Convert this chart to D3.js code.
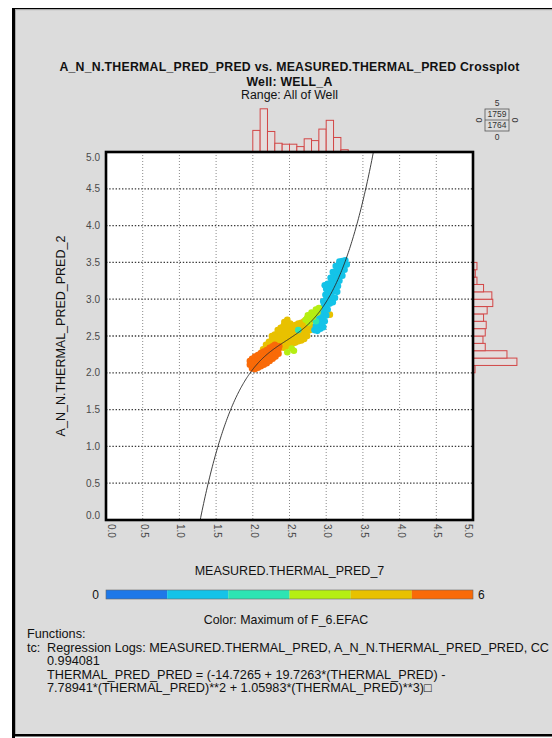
<!DOCTYPE html>
<html>
<head>
<meta charset="utf-8">
<script src="https://cdn.jsdelivr.net/npm/d3@7"></script>
<style>
  html, body { margin: 0; padding: 0; background: #ffffff; }
  svg { display: block; font-family: "Liberation Sans", Arial, sans-serif; }
</style>
</head>
<body>
<svg id="chart" width="552" height="738"></svg>
<script>
// ---------------- data ----------------
const titleLines = [
  "A_N_N.THERMAL_PRED_PRED vs. MEASURED.THERMAL_PRED Crossplot",
  "Well: WELL_A",
  "Range: All of Well"
];
const xAxisTitle = "MEASURED.THERMAL_PRED_7";
const yAxisTitle = "A_N_N.THERMAL_PRED_PRED_2";

const xTicks = [0, 0.5, 1, 1.5, 2, 2.5, 3, 3.5, 4, 4.5, 5];
const yTicks = [0, 0.5, 1, 1.5, 2, 2.5, 3, 3.5, 4, 4.5, 5];
const tickLabels = ["0.0", "0.5", "1.0", "1.5", "2.0", "2.5", "3.0", "3.5", "4.0", "4.5", "5.0"];

// x-histogram (MEASURED.THERMAL_PRED), bin edges and counts
const xHistEdges = [2.0, 2.1, 2.2, 2.3, 2.4, 2.5, 2.6, 2.7, 2.8, 2.9, 3.0, 3.1, 3.2, 3.3];
const xHistCounts = [180, 360, 171, 73, 65, 65, 45, 110, 95, 191, 264, 121, 19];

// y-histogram (A_N_N.THERMAL_PRED_PRED), bin edges and counts
const yHistEdges = [2.0, 2.1, 2.2, 2.3, 2.4, 2.5, 2.6, 2.7, 2.8, 2.9, 3.0, 3.1, 3.2, 3.3, 3.4, 3.5];
const yHistCounts = [17, 366, 283, 102, 83, 102, 110, 88, 118, 165, 157, 88, 33, 19, 33];

// point-count summary box
const summaryTop = "5";
const summaryBottom = "0";
const summaryLeft = "0";
const summaryRight = "0";
const summaryCounts = ["1759", "1764"];

// colour key: F_6.EFAC from 0 to 6
const efacDomain = [0, 6];
const efacColors = ["#1e78e8", "#14c3e8", "#2de5b3", "#b5ee12", "#e8c100", "#f96a08"];
const efacLabels = ["0", "6"];
const colorTitle = "Color: Maximum of F_6.EFAC";

// crossplot points [MEASURED, PRED], grouped by F_6.EFAC level
const efacGold = 4.5;
const pointsGold = [
  [2.14,2.32],[2.18,2.32],[2.18,2.38],[2.22,2.36],[2.22,2.42],
  [2.26,2.38],[2.26,2.44],[2.26,2.50],[2.30,2.40],[2.30,2.46],[2.30,2.52],
  [2.34,2.40],[2.34,2.46],[2.34,2.52],[2.34,2.58],
  [2.38,2.37],[2.38,2.43],[2.38,2.49],[2.38,2.55],[2.38,2.61],
  [2.42,2.34],[2.42,2.40],[2.42,2.46],[2.42,2.52],[2.42,2.58],[2.42,2.64],[2.43,2.69],
  [2.46,2.36],[2.46,2.42],[2.46,2.48],[2.46,2.54],[2.46,2.60],[2.46,2.66],[2.47,2.72],
  [2.50,2.38],[2.50,2.44],[2.50,2.50],[2.50,2.56],[2.50,2.62],[2.51,2.67],
  [2.54,2.40],[2.54,2.46],[2.54,2.52],[2.54,2.58],[2.54,2.64],
  [2.58,2.41],[2.58,2.47],[2.58,2.53],[2.58,2.59],[2.58,2.65],
  [2.62,2.43],[2.62,2.49],[2.62,2.55],[2.62,2.61],[2.62,2.67],
  [2.66,2.44],[2.66,2.50],[2.66,2.56],[2.66,2.62],[2.66,2.68],
  [2.70,2.46],[2.70,2.52],[2.70,2.58],[2.70,2.64],[2.70,2.70],
  [2.74,2.50],[2.74,2.56],[2.74,2.62],[2.74,2.68],[2.74,2.74],
  [2.78,2.58],[2.78,2.64],[2.78,2.70],[2.78,2.76],
  [2.82,2.72],[2.82,2.78],[2.88,2.64],[3.05,2.79]
];
const efacOrange = 5.5;
const pointsOrange = [
  [1.96,2.11],[1.96,2.16],
  [1.99,2.06],[1.99,2.12],[1.99,2.19],
  [2.03,2.05],[2.03,2.11],[2.03,2.17],[2.03,2.22],
  [2.07,2.07],[2.07,2.13],[2.07,2.19],[2.07,2.24],
  [2.11,2.09],[2.11,2.15],[2.11,2.21],[2.11,2.27],
  [2.15,2.11],[2.15,2.17],[2.15,2.23],[2.15,2.29],
  [2.19,2.13],[2.19,2.19],[2.19,2.25],[2.19,2.31],
  [2.23,2.16],[2.23,2.22],[2.23,2.28],[2.23,2.34],
  [2.27,2.19],[2.27,2.25],[2.27,2.31],[2.27,2.36],
  [2.31,2.22],[2.31,2.28],[2.31,2.34],[2.30,2.38],
  [2.35,2.26],[2.35,2.32],[2.36,2.36]
];
const efacCyan = 1.5;
const pointsCyan = [
  [2.84,2.58],[2.88,2.57],[2.92,2.60],[2.96,2.62],
  [2.86,2.64],[2.90,2.66],[2.94,2.68],[2.98,2.70],
  [2.88,2.72],[2.92,2.74],[2.96,2.76],[3.00,2.78],
  [2.90,2.80],[2.94,2.82],[2.98,2.84],[3.02,2.86],
  [2.93,2.88],[2.97,2.91],[3.01,2.93],[3.05,2.94],[3.09,2.96],
  [2.96,2.97],[3.00,3.00],[3.04,3.02],[3.08,3.03],[3.12,3.02],
  [2.99,3.06],[3.03,3.08],[3.07,3.10],[3.11,3.11],[3.15,3.10],
  [3.00,3.14],[3.04,3.16],[3.08,3.17],[3.12,3.18],[3.16,3.18],
  [2.98,3.19],[3.02,3.21],[3.06,3.22],[3.10,3.24],[3.14,3.25],[3.18,3.25],
  [3.06,3.29],[3.10,3.31],[3.14,3.32],[3.18,3.33],[3.22,3.32],
  [3.09,3.37],[3.13,3.38],[3.17,3.40],[3.21,3.40],[3.25,3.40],
  [3.13,3.45],[3.17,3.46],[3.21,3.47],[3.25,3.48],[3.28,3.47],
  [3.18,3.51],[3.22,3.52],[3.26,3.53]
];
const efacTeal = 2.5;
const pointsTeal = [[2.62,2.58],[2.86,2.70]];
const efacLime = 3.5;
const pointsLime = [
  [2.72,2.72],[2.75,2.78],[2.78,2.74],[2.80,2.82],[2.84,2.80],
  [2.86,2.86],[2.88,2.82],[2.76,2.68],[2.82,2.76],[2.90,2.88],
  [2.47,2.28],[2.53,2.33],[2.56,2.30]
];

// regression tc: PRED = c0 + c1*x + c2*x^2 + c3*x^3
const regCoef = [-14.7265, 19.7263, -7.78941, 1.05983];

const functionLines = [
  { text: "Functions:", indent: 0 },
  { text: "tc:", indent: 0 },
  { text: "0.994081", indent: 1 },
  { text: "THERMAL_PRED_PRED = (-14.7265 + 19.7263*(THERMAL_PRED) -", indent: 1 },
  { text: "7.78941*(THERMAL_PRED)**2 + 1.05983*(THERMAL_PRED)**3)\u25A1", indent: 1 }
];
const regressionHeader = "Regression Logs: MEASURED.THERMAL_PRED, A_N_N.THERMAL_PRED_PRED, CC";

// ---------------- drawing ----------------
const svg = d3.select("#chart");
const W = 552, H = 738;
const P = { left: 106, right: 473, top: 152, bottom: 520 };

const x = d3.scaleLinear().domain([0, 5]).range([P.left, P.right]);
const y = d3.scaleLinear().domain([0, 5]).range([P.bottom, P.top]);
const efacColor = d3.scaleQuantize().domain(efacDomain).range(efacColors);
const histLen = d3.scaleLinear().domain([0, 400]).range([0, 48]);

// window panel with its frame
svg.append("rect").attr("x", 12).attr("y", 8).attr("width", W - 12).attr("height", 727)
  .attr("fill", "#dcdcdc");
svg.append("rect").attr("x", 12).attr("y", 8).attr("width", W - 12).attr("height", 1.2).attr("fill", "#000");
svg.append("rect").attr("x", 15).attr("y", 9.2).attr("width", W - 15).attr("height", 1).attr("fill", "#a8a8a8");
svg.append("rect").attr("x", 15).attr("y", 9.2).attr("width", 1).attr("height", 725).attr("fill", "#a8a8a8");
svg.append("rect").attr("x", 12).attr("y", 8).attr("width", 3).attr("height", H - 8).attr("fill", "#000");
svg.append("rect").attr("x", 12).attr("y", 734).attr("width", W - 12).attr("height", 2.5).attr("fill", "#000");

// titles
const titleX = (P.left + P.right) / 2;
const titleY = [71, 85.5, 99];
svg.selectAll("text.title").data(titleLines).join("text")
  .attr("class", "title")
  .attr("x", titleX).attr("y", (d, i) => titleY[i])
  .attr("text-anchor", "middle")
  .attr("font-size", 12.3)
  .attr("letter-spacing", (d, i) => i < 2 ? 0.25 : 0)
  .attr("font-weight", (d, i) => i < 2 ? "bold" : "normal")
  .attr("fill", "#111")
  .text(d => d);

// marginal histograms
const histStroke = "#d24646";
const histFill = "#e4dcdc";
const xHistData = xHistCounts.map((c, i) => ({ c, a: xHistEdges[i], b: xHistEdges[i + 1] }));
svg.append("g").selectAll("rect").data(xHistData).join("rect")
  .attr("x", d => x(d.a)).attr("width", d => x(d.b) - x(d.a))
  .attr("y", d => P.top - histLen(d.c)).attr("height", d => histLen(d.c))
  .attr("fill", histFill).attr("stroke", histStroke).attr("stroke-width", 1);

const yHistData = yHistCounts.map((c, i) => ({ c, a: yHistEdges[i], b: yHistEdges[i + 1] }));
svg.append("g").selectAll("rect").data(yHistData).join("rect")
  .attr("x", P.right).attr("width", d => histLen(d.c))
  .attr("y", d => y(d.b)).attr("height", d => y(d.a) - y(d.b))
  .attr("fill", histFill).attr("stroke", histStroke).attr("stroke-width", 1);

// plot area
svg.append("rect").attr("x", P.left).attr("y", P.top)
  .attr("width", P.right - P.left).attr("height", P.bottom - P.top).attr("fill", "#fff");

svg.append("defs").append("clipPath").attr("id", "plotClip")
  .append("rect").attr("x", P.left).attr("y", P.top)
  .attr("width", P.right - P.left).attr("height", P.bottom - P.top);

// grid
const grid = svg.append("g");
grid.selectAll("line.vg").data(xTicks.slice(1, -1)).join("line")
  .attr("class", "vg")
  .attr("x1", d => x(d)).attr("x2", d => x(d)).attr("y1", P.top).attr("y2", P.bottom)
  .attr("stroke", "#8a8a8a").attr("stroke-width", 1).attr("stroke-dasharray", "1,2");
grid.selectAll("line.hg").data(yTicks.slice(1, -1)).join("line")
  .attr("class", "hg")
  .attr("x1", P.left).attr("x2", P.right).attr("y1", d => y(d)).attr("y2", d => y(d))
  .attr("stroke", "#3a3a3a").attr("stroke-width", 1.3).attr("stroke-dasharray", "1.4,1.8");

// points
const pts = svg.append("g").attr("clip-path", "url(#plotClip)");
const groups = [
  { pts: pointsGold, efac: efacGold },
  { pts: pointsOrange, efac: efacOrange },
  { pts: pointsCyan, efac: efacCyan },
  { pts: pointsTeal, efac: efacTeal },
  { pts: pointsLime, efac: efacLime }
];
groups.forEach(g => {
  pts.append("g").selectAll("circle").data(g.pts).join("circle")
    .attr("cx", d => x(d[0])).attr("cy", d => y(d[1])).attr("r", 3.3)
    .attr("fill", efacColor(g.efac));
});

// regression curve
const poly = v => regCoef[0] + regCoef[1] * v + regCoef[2] * v * v + regCoef[3] * v * v * v;
const curveX = d3.range(1.2, 3.75, 0.01);
svg.append("path").attr("clip-path", "url(#plotClip)")
  .datum(curveX)
  .attr("d", d3.line().x(v => x(v)).y(v => y(poly(v))))
  .attr("fill", "none").attr("stroke", "#2a2a2a").attr("stroke-width", 0.9);

// frame
svg.append("rect").attr("x", P.left).attr("y", P.top)
  .attr("width", P.right - P.left).attr("height", P.bottom - P.top)
  .attr("fill", "none").attr("stroke", "#000").attr("stroke-width", 2.6);

// tick labels
const tickFont = 10;
svg.append("g").selectAll("text").data(yTicks).join("text")
  .attr("x", P.left - 6)
  .attr("y", d => Math.min(Math.max(y(d), P.top + 5), P.bottom - 5))
  .attr("dy", "0.35em")
  .attr("text-anchor", "end")
  .attr("font-size", tickFont).attr("fill", "#4a4a4a")
  .text((d, i) => tickLabels[i]);

svg.append("g").selectAll("text").data(xTicks).join("text")
  .attr("transform", d => {
    const cx = Math.min(Math.max(x(d) + 1.5, P.left + 5), P.right - 5);
    return `translate(${cx},${P.bottom + 4}) rotate(90)`;
  })
  .attr("dy", "0.35em")
  .attr("text-anchor", "start")
  .attr("font-size", tickFont).attr("fill", "#4a4a4a")
  .text((d, i) => tickLabels[i]);

// axis titles
svg.append("text").attr("x", titleX).attr("y", 575)
  .attr("text-anchor", "middle").attr("font-size", 12.5).attr("fill", "#111")
  .text(xAxisTitle);
svg.append("text")
  .attr("transform", `translate(65,${(P.top + P.bottom) / 2}) rotate(-90)`)
  .attr("text-anchor", "middle").attr("font-size", 12.5).attr("fill", "#111")
  .text(yAxisTitle);

// point-count summary box
const sb = svg.append("g").attr("font-size", 8.5).attr("fill", "#333");
const boxX = 485, boxY = 109, boxW = 24, boxH = 22;
sb.append("rect").attr("x", boxX).attr("y", boxY).attr("width", boxW).attr("height", boxH)
  .attr("fill", "none").attr("stroke", "#555").attr("stroke-width", 0.8);
sb.append("line").attr("x1", boxX).attr("x2", boxX + boxW)
  .attr("y1", boxY + boxH / 2).attr("y2", boxY + boxH / 2)
  .attr("stroke", "#555").attr("stroke-width", 0.8);
sb.selectAll("text.cnt").data(summaryCounts).join("text").attr("class", "cnt")
  .attr("x", boxX + boxW / 2).attr("y", (d, i) => boxY + boxH / 4 + i * boxH / 2)
  .attr("dy", "0.35em").attr("text-anchor", "middle").text(d => d);
sb.append("text").attr("x", boxX + boxW / 2).attr("y", boxY - 6).attr("dy", "0.35em")
  .attr("text-anchor", "middle").text(summaryTop);
sb.append("text").attr("x", boxX + boxW / 2).attr("y", boxY + boxH + 6).attr("dy", "0.35em")
  .attr("text-anchor", "middle").text(summaryBottom);
sb.append("text").attr("transform", `translate(${boxX - 6},${boxY + boxH / 2}) rotate(90)`)
  .attr("dy", "0.35em").attr("text-anchor", "middle").text(summaryLeft);
sb.append("text").attr("transform", `translate(${boxX + boxW + 6},${boxY + boxH / 2}) rotate(90)`)
  .attr("dy", "0.35em").attr("text-anchor", "middle").text(summaryRight);

// colour key
const cbX = d3.scaleLinear().domain(efacDomain).range([P.left, P.right]);
const cbY = 590, cbH = 9;
const cbStep = (efacDomain[1] - efacDomain[0]) / efacColors.length;
const cbSteps = d3.range(efacColors.length).map(i => efacDomain[0] + i * cbStep);
svg.append("g").selectAll("rect").data(cbSteps).join("rect")
  .attr("x", d => cbX(d)).attr("width", d => cbX(d + cbStep) - cbX(d))
  .attr("y", cbY).attr("height", cbH)
  .attr("fill", d => efacColor(d + cbStep / 2));
svg.append("rect").attr("x", P.left).attr("y", cbY).attr("width", P.right - P.left).attr("height", cbH)
  .attr("fill", "none").attr("stroke", "#666").attr("stroke-width", 0.6);
svg.append("text").attr("x", P.left - 7).attr("y", cbY + cbH / 2).attr("dy", "0.36em")
  .attr("text-anchor", "end").attr("font-size", 12).attr("fill", "#111").text(efacLabels[0]);
svg.append("text").attr("x", P.right + 5).attr("y", cbY + cbH / 2).attr("dy", "0.36em")
  .attr("text-anchor", "start").attr("font-size", 12).attr("fill", "#111").text(efacLabels[1]);
svg.append("text").attr("x", 286).attr("y", 624)
  .attr("text-anchor", "middle").attr("font-size", 12.4).attr("fill", "#111").text(colorTitle);

// function notes
const fnX = 27, fnIndent = 20;
const fnY = [637.5, 651.5, 665, 678.5, 692];
const fn = svg.append("g").attr("font-size", 12.7).attr("fill", "#111");
fn.selectAll("text").data(functionLines).join("text")
  .attr("x", d => fnX + d.indent * fnIndent).attr("y", (d, i) => fnY[i])
  .text(d => d.text);
fn.append("text").attr("x", fnX + fnIndent).attr("y", fnY[1]).text(regressionHeader);
</script>
</body>
</html>
